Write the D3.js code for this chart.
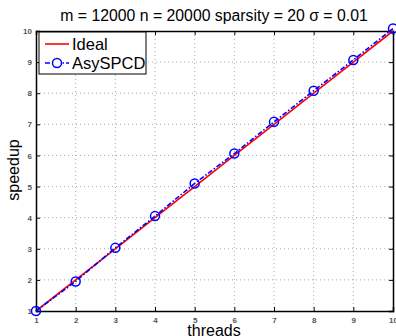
<!DOCTYPE html>
<html>
<head>
<meta charset="utf-8">
<script src="https://cdn.jsdelivr.net/npm/d3@7"></script>
<style>
  body { margin: 0; background: #fff; }
  svg text { font-family: "Liberation Sans", Arial, sans-serif; }
  .grid line { stroke: #aaa; stroke-dasharray: 1,3; }
</style>
</head>
<body>
<div id="chart"></div>
<script>
var threads = [1, 2, 3, 4, 5, 6, 7, 8, 9, 10];
var ideal = [1, 2, 3, 4, 5, 6, 7, 8, 9, 10];
var asyspcd = [1, 1.95, 3.03, 4.05, 5.1, 6.06, 7.08, 8.08, 9.07, 10.08];
var xTicks = [1, 2, 3, 4, 5, 6, 7, 8, 9, 10];
var yTicks = [1, 2, 3, 4, 5, 6, 7, 8, 9, 10];

var w = 396, h = 336;
var margin = { top: 31, right: 3, bottom: 25, left: 36 };
var width = w - margin.left - margin.right;
var height = h - margin.top - margin.bottom;

var svg = d3.select("#chart").append("svg")
  .attr("width", w)
  .attr("height", h);

var g = svg.append("g")
  .attr("transform", "translate(" + margin.left + "," + margin.top + ")");

var x = d3.scaleLinear().domain([1, 10]).range([0, width]);
var y = d3.scaleLinear().domain([1, 10]).range([height, 0]);

// grid
g.append("g").attr("class", "grid")
  .selectAll("line").data(xTicks.slice(1, -1)).enter().append("line")
  .attr("x1", d => x(d)).attr("x2", d => x(d))
  .attr("y1", 0).attr("y2", height);
g.append("g").attr("class", "grid")
  .selectAll("line").data(yTicks.slice(1, -1)).enter().append("line")
  .attr("y1", d => y(d)).attr("y2", d => y(d))
  .attr("x1", 0).attr("x2", width);

// axes with inward ticks
var xAxis = d3.axisBottom(x).tickValues(xTicks).tickSize(-4).tickPadding(6);
var yAxis = d3.axisLeft(y).tickValues(yTicks).tickSize(-4).tickPadding(4);

var gx = g.append("g").attr("transform", "translate(0," + height + ")").call(xAxis);
var gy = g.append("g").call(yAxis);
g.append("g").call(d3.axisTop(x).tickValues(xTicks).tickSize(-4).tickFormat(""));
g.append("g").attr("transform", "translate(" + width + ",0)")
  .call(d3.axisRight(y).tickValues(yTicks).tickSize(-4).tickFormat(""));

g.selectAll(".domain").attr("stroke", "#000").attr("stroke-width", 1.5);
g.selectAll(".tick line").attr("stroke", "#000");
gx.selectAll("text").style("font-size", "8px").style("font-weight", "bold").attr("fill", "#555");
gy.selectAll("text").style("font-size", "8px").style("font-weight", "bold").attr("fill", "#555");

// lines
var line = d3.line()
  .x((d, i) => x(threads[i]))
  .y(d => y(d));

g.append("path").datum(ideal)
  .attr("d", line)
  .attr("fill", "none")
  .attr("stroke", "#ff0000")
  .attr("stroke-width", 1.6);

g.append("path").datum(asyspcd)
  .attr("d", line)
  .attr("fill", "none")
  .attr("stroke", "#0000ff")
  .attr("stroke-width", 1.6)
  .attr("stroke-dasharray", "5,2,1.5,2");

g.selectAll("circle.pt").data(asyspcd).enter().append("circle")
  .attr("class", "pt")
  .attr("cx", (d, i) => x(threads[i]))
  .attr("cy", d => y(d))
  .attr("r", 4.5)
  .attr("fill", "none")
  .attr("stroke", "#0000ff")
  .attr("stroke-width", 1.5);

// legend
var lg = svg.append("g").attr("transform", "translate(39,32)");
lg.append("rect")
  .attr("width", 107).attr("height", 42)
  .attr("fill", "#fff").attr("stroke", "#000").attr("stroke-width", 1);
lg.append("line").attr("x1", 6).attr("x2", 30).attr("y1", 12).attr("y2", 12)
  .attr("stroke", "#ff0000").attr("stroke-width", 1.6);
lg.append("text").attr("x", 33).attr("y", 18).text("Ideal").style("font-size", "16.5px");
lg.append("line").attr("x1", 6).attr("x2", 30).attr("y1", 31).attr("y2", 31)
  .attr("stroke", "#0000ff").attr("stroke-width", 1.6)
  .attr("stroke-dasharray", "5,2,1.5,2");
lg.append("circle").attr("cx", 18).attr("cy", 31).attr("r", 4.5)
  .attr("fill", "#fff").attr("stroke", "#0000ff").attr("stroke-width", 1.5);
lg.append("text").attr("x", 33).attr("y", 37).text("AsySPCD").style("font-size", "16.5px");

// title and labels
svg.append("text")
  .attr("x", 214).attr("y", 21)
  .attr("text-anchor", "middle")
  .style("font-size", "15.8px")
  .text("m = 12000 n = 20000 sparsity = 20 σ = 0.01");

svg.append("text")
  .attr("x", 214).attr("y", 336)
  .attr("text-anchor", "middle")
  .style("font-size", "16px")
  .text("threads");

svg.append("text")
  .attr("transform", "translate(19,170) rotate(-90)")
  .attr("text-anchor", "middle")
  .style("font-size", "16px")
  .text("speedup");
</script>
</body>
</html>
